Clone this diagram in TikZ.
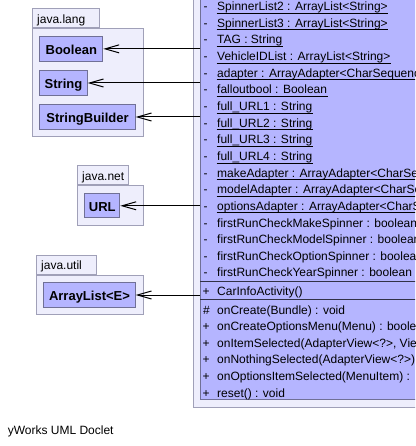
\documentclass[tikz,border=0pt]{standalone}
\usepackage{fontspec}
\setmainfont{Liberation Sans}
\usetikzlibrary{arrows.meta}
\definecolor{clsfill}{RGB}{181,181,255}
\definecolor{clsline}{RGB}{112,112,150}
\definecolor{sepline}{RGB}{50,50,70}
\definecolor{pkgfill}{RGB}{238,238,252}
\definecolor{pkgline}{RGB}{160,160,184}
\begin{document}
\begin{tikzpicture}[x=1pt,y=-1pt,line width=1pt,
  pkgbody/.style={draw=pkgline,fill=pkgfill,anchor=north west,inner sep=0pt},
  pkgtab/.style={draw=pkgline,fill=pkgfill,anchor=south west,inner xsep=5pt,inner ysep=0pt,
    minimum height=18.7pt,align=left,text height=10pt,text depth=0pt,font=\fontsize{12}{14}\selectfont},
  cls/.style={draw=clsline,fill=clsfill,anchor=north west,inner sep=0pt,
    text height=10.4pt,text depth=0pt,font=\fontsize{13}{15}\selectfont\bfseries},
  attr/.style={anchor=base west,inner sep=0pt,font=\fontsize{12}{14}\selectfont},
  marker/.style={anchor=base,inner sep=0pt,font=\fontsize{12}{14}\selectfont},
  uline/.style={line width=1pt,black},
  dep/.style={-{Straight Barb[length=14pt,width=8pt]},line width=1pt,black}]
\useasboundingbox (0,0) rectangle (415,446);
\clip (0,0) rectangle (415,446);

% big package and class
\node[draw=pkgline,fill=pkgfill,anchor=south west,inner sep=0pt,minimum width=300pt,minimum height=450pt] (outer) at (193,408) {};
\node[draw=clsline,fill=clsfill,anchor=south west,inner sep=0pt,minimum width=300pt,minimum height=440pt] (cia) at (200,400) {};
\draw[sepline] (200,281) -- (500,281);
\draw[sepline] (200,299.3) -- (500,299.3);

% java.lang
\node[pkgbody,minimum width=111pt,minimum height=108.3pt] (langpkg) at (31.7,28) {};
\node[pkgtab,text width=57.3pt] (langtab) at (31.7,28) {java.lang};
\node[cls,minimum width=63pt,minimum height=24.7pt] (boolean) at (39.3,36) {Boolean};
\node[cls,minimum width=47.4pt,minimum height=24.4pt] (string) at (39.3,70.3) {String};
\node[cls,minimum width=95.4pt,minimum height=24.4pt] (sb) at (39.3,104.3) {StringBuilder};

% java.net
\node[pkgbody,minimum width=66pt,minimum height=40.3pt] (netpkg) at (76.7,185) {};
\node[pkgtab,text width=41.3pt] (nettab) at (76.7,185) {java.net};
\node[cls,minimum width=35pt,minimum height=24pt] (url) at (84.3,193.3) {URL};

% java.util
\node[pkgbody,minimum width=107pt,minimum height=39.6pt] (utilpkg) at (35.7,274.7) {};
\node[pkgtab,text width=50pt] (utiltab) at (35.7,274.7) {java.util};
\node[cls,minimum width=91.4pt,minimum height=24.4pt] (alist) at (43.3,282.3) {ArrayList<E>};

% attributes (static, underlined)
\foreach \t [count=\i from 0] in {SpinnerList2 : ArrayList<String>,SpinnerList3 : ArrayList<String>,TAG : String,VehicleIDList : ArrayList<String>,adapter : ArrayAdapter<CharSequenc,falloutbool : Boolean,full\_URL1 : String,full\_URL2 : String,full\_URL3 : String,full\_URL4 : String,makeAdapter : ArrayAdapter<CharSeq,modelAdapter : ArrayAdapter<CharSe,optionsAdapter : ArrayAdapter<CharS}{
  \node[attr] (a\i) at (216.7,10.7+16.64*\i) {\t};
  \node[marker] (ma\i) at (205.5,10.7+16.64*\i) {-};
  \draw[uline] ([yshift=-2.6pt]a\i.base west) -- ([yshift=-2.6pt]a\i.base east);
}
\foreach \t [count=\i from 13] in {firstRunCheckMakeSpinner : boolean,firstRunCheckModelSpinner : boolean,firstRunCheckOptionSpinner : boolea,firstRunCheckYearSpinner : boolean}{
  \node[attr] (a\i) at (216.7,10.7+16.64*\i) {\t};
  \node[marker] (ma\i) at (205.5,10.7+16.64*\i) {-};
}
% constructor
\node[attr] (ctor) at (216.7,295.4) {CarInfoActivity()};
\node[marker] (mctor) at (206,295.4) {+};
% methods
\node[attr] (m0) at (216.7,314) {onCreate(Bundle) : void};
\node[marker] (mm0) at (206.5,314) {\#};
\foreach \t [count=\i from 1] in {onCreateOptionsMenu(Menu) : boolea,{onItemSelected(AdapterView<?>, View},onNothingSelected(AdapterView<?>),onOptionsItemSelected(MenuItem) :,reset() : void}{
  \node[attr] (m\i) at (216.7,314+16.64*\i) {\t};
  \node[marker] (mm\i) at (206,314+16.64*\i) {+};
}

% dependencies
\draw[dep] (boolean -| cia.west) -- (boolean.east);
\draw[dep] (string -| cia.west) -- (string.east);
\draw[dep] (sb -| cia.west) -- (sb.east);
\draw[dep] (url -| cia.west) -- (url.east);
\draw[dep] (alist -| cia.west) -- (alist.east);

\node[attr] (footer) at (7.3,434) {yWorks UML Doclet};
\end{tikzpicture}
\end{document}
